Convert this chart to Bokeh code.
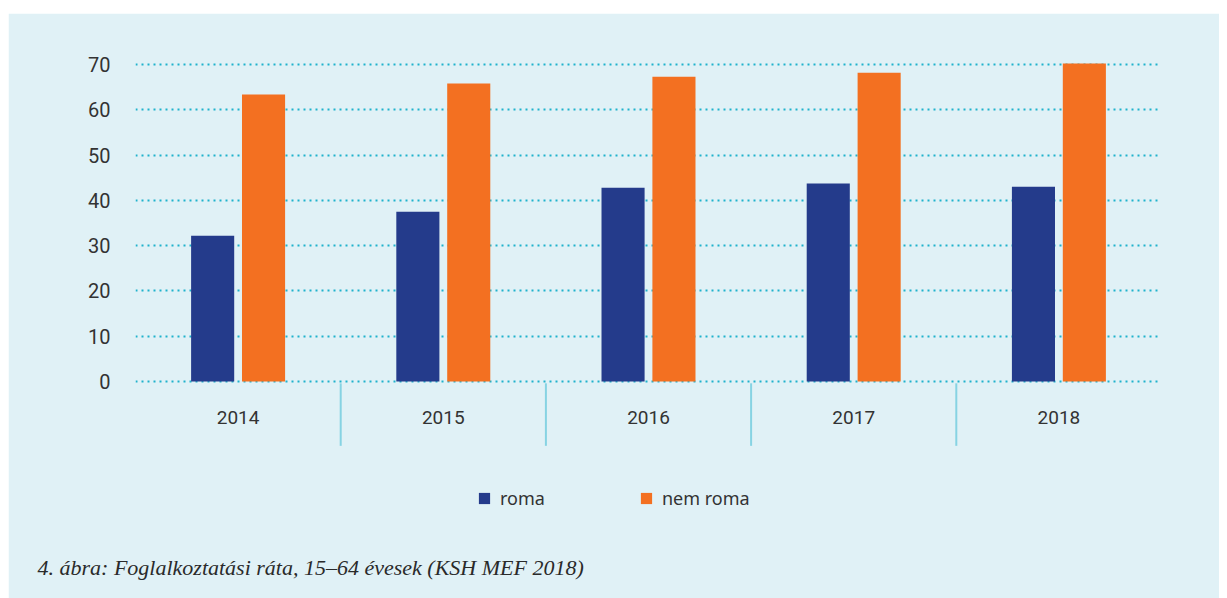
from bokeh.plotting import figure
from bokeh.models import (Range1d, FixedTicker, ColumnDataSource, Legend, LegendItem, Title)
from bokeh.core.properties import value
from bokeh.embed import file_html
from bokeh.resources import INLINE

# ---- data ----
years = ["2014", "2015", "2016", "2017", "2018"]
roma = [32.2, 37.5, 42.8, 43.7, 43.0]
nem_roma = [63.4, 65.8, 67.3, 68.2, 70.2]
series_names = ["roma", "nem roma"]
y_ticks = [0, 10, 20, 30, 40, 50, 60, 70]
caption = "4. ábra: Foglalkoztatási ráta, 15–64 évesek (KSH MEF 2018)"

# ---- style ----
BG = "#e0f1f6"
NAVY = "#243b8b"
ORANGE = "#f37021"
GRID = "#1fb2cc"
SEP = "#86d3e3"
TXT = "#333333"

n = len(years)
centers = [i + 0.5 for i in range(n)]
bar_w = 0.21
off = 0.124

p = figure(width=1211, height=585, output_backend="svg", toolbar_location=None,
           x_range=Range1d(0, n), y_range=Range1d(-34.0, 75.08))
p.margin = (13, 8, 0, 8)
p.background_fill_color = BG
p.border_fill_color = BG
p.outline_line_color = BG
p.outline_line_width = 2
p.min_border_left = 127
p.min_border_right = 58
p.min_border_top = 28
p.min_border_bottom = 63

# axes
p.xaxis.visible = False
p.xgrid.visible = False
p.yaxis.ticker = FixedTicker(ticks=y_ticks)
p.yaxis.axis_line_color = None
p.yaxis.major_tick_line_color = None
p.yaxis.minor_tick_line_color = None
p.yaxis.major_label_standoff = 19
p.yaxis.major_label_text_font = "Roboto"
p.yaxis.major_label_text_font_size = "20px"
p.yaxis.major_label_text_color = TXT
p.ygrid.ticker = FixedTicker(ticks=y_ticks)
p.ygrid.grid_line_color = GRID
p.ygrid.grid_line_width = 2
p.ygrid.grid_line_dash = "2 4"

src = ColumnDataSource(dict(
    x_r=[c - off for c in centers], x_n=[c + off for c in centers],
    roma=roma, nem=nem_roma, xc=centers, years=years,
    ylab=[-7.9] * n))

r1 = p.vbar(x="x_r", top="roma", bottom=0, width=bar_w, source=src,
            fill_color=NAVY, line_color=None)
r2 = p.vbar(x="x_n", top="nem", bottom=0, width=bar_w, source=src,
            fill_color=ORANGE, line_color=None)

# category labels
p.text(x="xc", y="ylab", text="years", source=src, text_align="center",
       text_baseline="middle", text_font=value("Roboto"), text_font_size="19px",
       text_color=TXT)

# category separators
seps = list(range(1, n))
p.segment(x0=seps, y0=[-0.4] * len(seps), x1=seps, y1=[-14.2] * len(seps),
          line_color=SEP, line_width=2)

legend = Legend(items=[LegendItem(label=series_names[0], renderers=[r1]),
                       LegendItem(label=series_names[1], renderers=[r2])],
                orientation="horizontal", location=(342, 25),
                background_fill_alpha=0, border_line_color=None,
                padding=0, margin=0, spacing=94,
                glyph_width=14, glyph_height=14, label_standoff=9,
                label_text_font="Noto Sans", label_text_font_size="18px",
                label_text_color=TXT, label_height=20)
p.add_layout(legend, "center")

cap = Title(text=caption, align="left", offset=-98, standoff=34,
            text_font="Liberation Serif", text_font_style="italic",
            text_font_size="22px", text_color="#2a2a2a")
p.add_layout(cap, "below")

open("out.html", "w").write(file_html(p, INLINE))
